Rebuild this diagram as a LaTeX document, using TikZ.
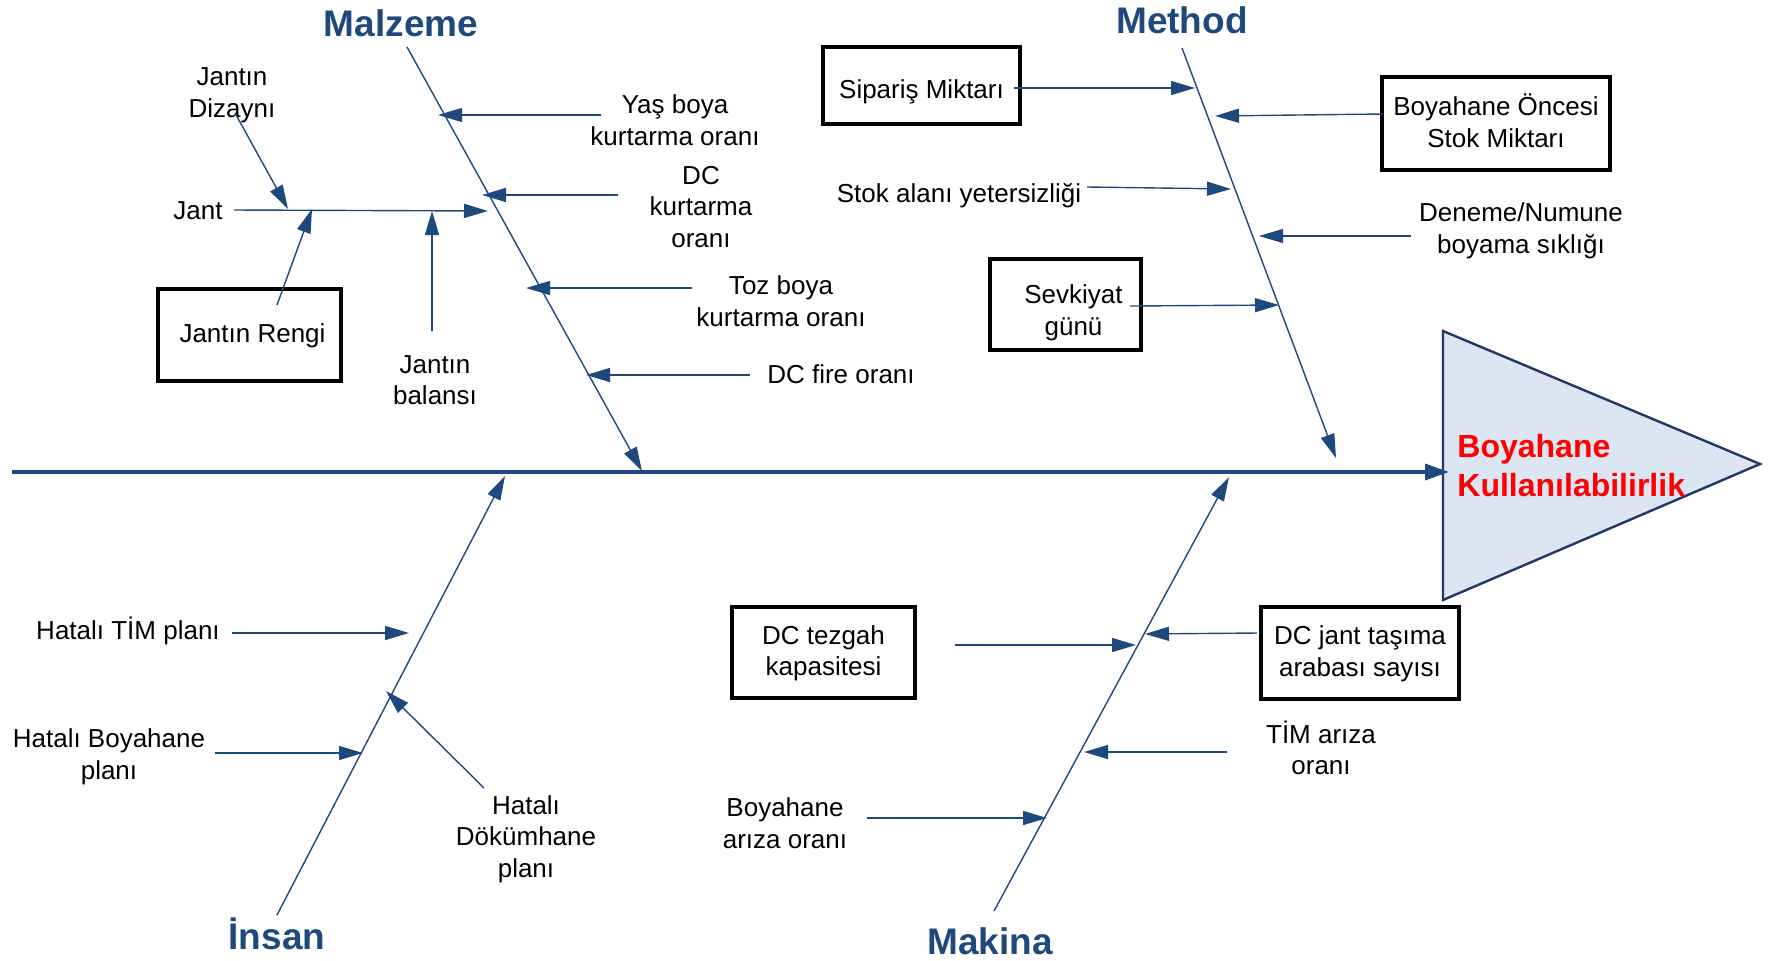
\documentclass[tikz,border=0pt]{standalone}
\usepackage{fontspec}
\setmainfont{Liberation Sans}
\usetikzlibrary{arrows.meta}
\definecolor{navy}{RGB}{31,73,125}
\definecolor{trifill}{RGB}{220,230,242}
\definecolor{tridraw}{RGB}{31,56,100}
\newcommand{\boxtxt}[2]{\raisebox{#1}[10pt][10pt]{\begin{tabular}{@{}c@{}}#2\end{tabular}}}
\begin{document}
\begin{tikzpicture}[x=0.5pt,y=-0.5pt,
  tipend/.style={-{Triangle[length=12pt,width=7pt]}},
  branch/.style={draw=navy,line width=0.7pt,tipend},
  bone/.style={draw=navy,line width=0.7pt,tipend},
  spine/.style={draw=navy,line width=1.7pt,-{Triangle[length=12pt,width=8pt]}},
  box/.style={draw=black,line width=2pt,align=center,inner sep=0pt,font=\fontsize{13}{15.8}\selectfont},
  lbl/.style={align=center,inner sep=0pt,font=\fontsize{13}{15.8}\selectfont},
  head/.style={text=navy,inner sep=0pt,font=\fontsize{18.5}{22}\selectfont\bfseries}]
\useasboundingbox (0,0) rectangle (1772,960);

% effect triangle
\coordinate (t1) at (1443,331);
\coordinate (t2) at (1760,464);
\coordinate (t3) at (1443,600);
\draw[fill=trifill,draw=tridraw,line width=1.2pt,line join=miter] (t1) -- (t2) -- (t3) -- cycle;
\node[anchor=west,text=red,align=left,inner sep=0pt,font=\fontsize{16}{19.5}\selectfont\bfseries] (eff) at (1457,466) {Boyahane\\Kullanılabilirlik};

% spine
\coordinate (sp0) at (12,472);
\coordinate (sp1) at (1449,472);
\draw[spine] (sp0) -- (sp1);

% headers
\node[head] (hmal) at (401,23) {Malzeme};
\node[head] (hmet) at (1182,20) {Method};
\node[head] (hins) at (277,934) {İnsan};
\node[head] (hmak) at (990,941) {Makina};

% bones
\coordinate (malT) at (407,47);  \coordinate (malB) at (642,471);
\coordinate (metT) at (1182,48); \coordinate (metB) at (1336,458);
\coordinate (insB) at (277,915); \coordinate (insT) at (505,476);
\coordinate (makB) at (994,911); \coordinate (makT) at (1229,477);
\draw[bone] (malT) -- (malB);
\draw[bone] (metT) -- (metB);
\draw[bone] (insB) -- (insT);
\draw[bone] (makB) -- (makT);

% ---------- Malzeme ----------
\node[lbl] (yas) at (675,120) {Yaş boya\\kurtarma oranı};
\node[lbl] (dck) at (701,207) {DC\\kurtarma\\oranı};
\node[lbl] (toz) at (781,301) {Toz boya\\kurtarma oranı};
\node[lbl] (dcf) at (841,374) {DC fire oranı};
\node[lbl] (jant) at (198,211) {Jant};
\node[lbl] (jdiz) at (232,95.5) {Jantın\\Dizaynı};
\node[lbl] (jbal) at (435,380) {Jantın\\balansı};
\node[box,minimum width=91.5pt,minimum height=46pt] (jren) at (249.5,335) {\boxtxt{-3.8pt}{\hspace*{3pt}Jantın Rengi}};

\coordinate (a1s) at (601,115); \coordinate (a1e) at (438,115);
\coordinate (a2s) at (618,195); \coordinate (a2e) at (482,195);
\coordinate (a3s) at (692,288); \coordinate (a3e) at (526,288);
\coordinate (a4s) at (750,375); \coordinate (a4e) at (586,375);
\coordinate (js) at (234,210);  \coordinate (je) at (488,211);
\coordinate (jds) at (235,113); \coordinate (jde) at (288,209);
\coordinate (jrs) at (277,305); \coordinate (jre) at (312,209);
\coordinate (jbs) at (432,331); \coordinate (jbe) at (432,211);
\draw[branch] (a1s) -- (a1e);
\draw[branch] (a2s) -- (a2e);
\draw[branch] (a3s) -- (a3e);
\draw[branch] (a4s) -- (a4e);
\draw[branch] (js) -- (je);
\draw[branch] (jds) -- (jde);
\draw[branch] (jrs) -- (jre);
\draw[branch] (jbs) -- (jbe);

% ---------- Method ----------
\node[box,minimum width=98.5pt,minimum height=38.5pt] (sip) at (921.5,85.5) {\boxtxt{-6.2pt}{Sipariş Miktarı}};
\node[box,minimum width=114pt,minimum height=46.5pt] (boi) at (1496,123.5) {\boxtxt{-3.8pt}{Boyahane Öncesi\\Stok Miktarı}};
\node[box,minimum width=75.5pt,minimum height=45.5pt] (sev) at (1065.5,304.5) {\boxtxt{-7.2pt}{\hspace*{8pt}Sevkiyat\\\hspace*{8pt}günü}};
\node[lbl] (stok) at (959,196) {Stok alanı yetersizliği};
\node[lbl] (den) at (1521,231) {Deneme/Numune\\boyama sıklığı};

\coordinate (b1s) at (1014,88);  \coordinate (b1e) at (1195,88);
\coordinate (b2s) at (1383,114); \coordinate (b2e) at (1215,116);
\coordinate (b3s) at (1087,187); \coordinate (b3e) at (1231,189);
\coordinate (b4s) at (1411,236); \coordinate (b4e) at (1259,236);
\coordinate (b5s) at (1130,306); \coordinate (b5e) at (1279,305);
\draw[branch] (b1s) -- (b1e);
\draw[branch] (b2s) -- (b2e);
\draw[branch] (b3s) -- (b3e);
\draw[branch] (b4s) -- (b4e);
\draw[branch] (b5s) -- (b5e);

% ---------- Insan ----------
\node[lbl] (htim) at (128,631) {Hatalı TİM planı};
\node[lbl] (hboy) at (109,757) {Hatalı Boyahane\\planı};
\node[lbl] (hdok) at (526,839) {Hatalı\\Dökümhane\\planı};

\coordinate (c1s) at (232,633); \coordinate (c1e) at (409,633);
\coordinate (c2s) at (215,753); \coordinate (c2e) at (363,753);
\coordinate (c3s) at (484,788); \coordinate (c3e) at (386,691);
\draw[branch] (c1s) -- (c1e);
\draw[branch] (c2s) -- (c2e);
\draw[branch] (c3s) -- (c3e);

% ---------- Makina ----------
\node[box,minimum width=91.5pt,minimum height=45.5pt] (dct) at (823.5,652.5) {\boxtxt{-3.5pt}{DC tezgah\\kapasitesi}};
\node[box,minimum width=99pt,minimum height=46pt] (dcj) at (1360,653) {\boxtxt{-3.5pt}{DC jant taşıma\\arabası sayısı}};
\node[lbl] (tim) at (1321,748) {TİM arıza\\oranı};
\node[lbl] (bar) at (785,823) {Boyahane\\arıza oranı};

\coordinate (d1s) at (955,645);  \coordinate (d1e) at (1136,645);
\coordinate (d2s) at (1257,633); \coordinate (d2e) at (1145,634);
\coordinate (d3s) at (1227,752); \coordinate (d3e) at (1084,752);
\coordinate (d4s) at (867,818);  \coordinate (d4e) at (1047,818);
\draw[branch] (d1s) -- (d1e);
\draw[branch] (d2s) -- (d2e);
\draw[branch] (d3s) -- (d3e);
\draw[branch] (d4s) -- (d4e);
\end{tikzpicture}
\end{document}
